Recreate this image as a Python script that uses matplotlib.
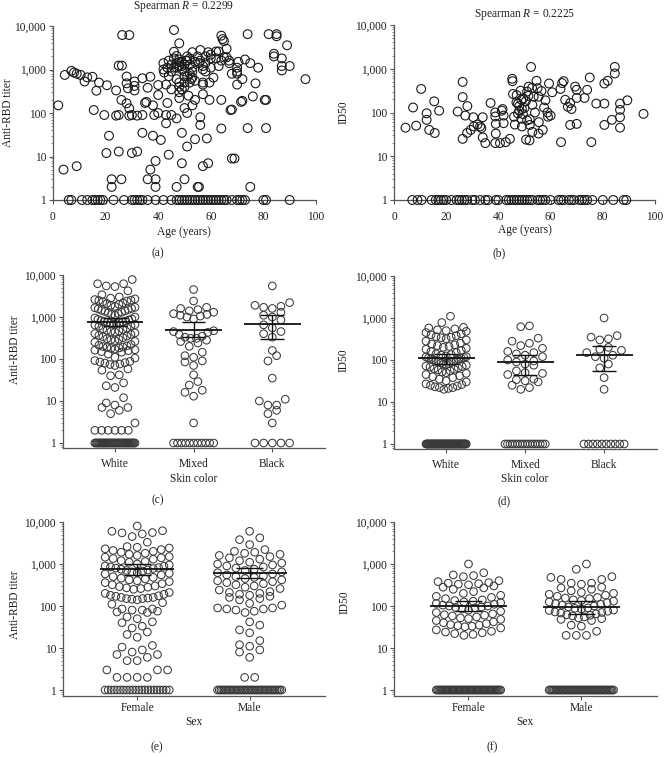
import matplotlib
matplotlib.use("Agg")
import matplotlib.pyplot as plt
import numpy as np
from matplotlib.ticker import LogLocator, NullFormatter

plt.rcParams['font.family'] = ['Liberation Serif', 'DejaVu Serif']
plt.rcParams['mathtext.fontset'] = 'custom'
plt.rcParams['mathtext.rm'] = 'Liberation Serif'
plt.rcParams['mathtext.it'] = 'Liberation Serif:italic'

# ---------------- data ----------------
# (a) age vs anti-RBD titer
age_a = [2, 4, 4.5, 7, 8, 9, 9, 10.5, 12, 13, 15, 15.5, 16.5, 17.5, 19.5, 20.5, 20.3, 21.3, 22.3, 22.3,
         24, 24, 25, 25, 25, 26.2, 26, 26, 26.3, 29, 28, 28, 28.5, 28, 29, 29, 30, 30, 31, 31, 31, 32, 32,
         34, 34, 34, 35, 35.5, 36, 36, 37, 37, 38, 38, 38.5, 39, 39, 39, 40, 40, 40,
         41, 42, 42, 42.3, 43, 43, 43, 43.5, 44, 43.5, 45, 45, 46, 46, 47, 47, 47, 47, 48, 48, 48, 48, 48, 48,
         49, 49, 49, 49, 50, 50, 50, 50, 50.5, 51, 51, 51, 51.5, 52, 52, 52.5, 53, 53, 53, 54, 54, 54, 55, 55.5,
         56, 56, 55.5, 57, 57, 57, 57, 57, 58, 58, 59, 59, 59.5, 59.5, 60, 60, 61,
         62, 63, 64, 64.5, 64, 64, 65, 66, 66, 67, 67, 68, 68, 68, 69, 70, 70, 70, 70, 70.5, 72, 72, 73, 74, 74,
         75, 75, 76, 77, 78, 81, 81, 82, 85, 85, 84, 84, 87, 87, 87, 89, 90, 96,
         44, 45, 46, 47, 48, 49, 50, 51, 52, 53, 55, 56, 57, 58, 60, 62, 63, 64, 65, 50, 51, 52, 53, 54, 47, 48,
         49, 50, 44, 45, 46, 71.5, 67.5, 80.5, 56, 58.5,
         6, 7, 11, 13, 15, 16, 17, 18, 19, 23, 27, 30, 31, 32, 33, 34, 36, 39, 42, 45, 47, 48, 49, 50, 51, 52, 53,
         54, 55, 56, 57, 58, 59, 60, 61, 62, 63, 64, 65, 66, 68, 70, 71, 72, 73, 80, 81, 90]
titer_a = [150, 5, 750, 930, 850, 6, 800, 750, 530, 660, 680, 117, 325, 500, 90, 435, 12, 30, 3, 2,
           330, 87, 90, 13, 1230, 1230, 200, 3, 6200, 6200, 690, 480, 370, 167, 128, 87, 12, 90, 530, 420, 330, 13, 87,
           630, 90, 35, 170, 180, 380, 3, 5, 680, 150, 30, 90, 7.9, 3, 2, 260, 100, 440,
           24, 1000, 1400, 850, 450, 90, 58, 170, 11, 1100, 90, 350, 8100, 2560, 2050, 1100, 75, 2, 4000, 1500, 1200,
           300, 220, 400,
           1500, 35, 7, 1000, 3, 130, 500, 700, 1600, 100, 17, 2000, 250, 500, 1300, 600, 2500, 150, 900, 25, 200,
           1500, 2, 2,
           53, 2800, 1400, 500, 450, 6, 270, 1000, 1400, 2000, 2500, 7, 200, 500, 1800, 1100, 650,
           2600, 2600, 6000, 5000, 200, 44, 4500, 3000, 1900, 1600, 1400, 800, 120, 9, 9, 1100, 900, 800, 450, 1500,
           600, 190, 1700, 6500, 45, 1400, 2, 240, 480, 1100, 200, 45, 6500, 6500, 5800, 2300, 2000, 1800, 1200, 950,
           3600, 1200, 600,
           1600, 1300, 1800, 1400, 1700, 1200, 1300, 1600, 1800, 1100, 2000, 1600, 1200, 900, 2200, 1800, 1200, 1600,
           1900, 900, 700, 800, 650, 550, 600, 500, 350, 400, 700, 900, 1100, 180, 117, 200, 80, 26,
           1, 1, 1, 1, 1, 1, 1, 1, 1, 1, 1, 1, 1, 1, 1, 1, 1, 1, 1, 1, 1, 1, 1, 1, 1, 1, 1,
           1, 1, 1, 1, 1, 1, 1, 1, 1, 1, 1, 1, 1, 1, 1, 1, 1, 1, 1, 1, 1]

# (b) age vs ID50
age_b = [4.4, 7.3, 8.5, 10.4, 12.5, 12.5, 13.5, 15.4, 15.6, 17.3, 24.4, 26.3, 26.3, 26.3, 27.3, 28.1, 28, 29.4,
         30.4, 30.6, 32, 33, 33.5, 34, 34, 35, 37, 38.8, 38.8, 39, 39, 38.8, 40.6, 41.3, 41.6, 42, 42, 42.8, 44.4,
         45.3, 45.4, 45.6, 46, 46.3, 46.9, 47.5, 48, 48.5, 48.8, 49, 48.8, 49.4, 50, 50.6, 51, 51.5, 51.6, 51.9,
         52, 52.5, 52.9, 53, 54, 54.6, 55, 55.4, 55.4, 57, 57.5, 58, 58.8, 59, 59.4, 60, 60.6, 63.8, 64.4, 64,
         65, 65.6, 66.6, 67.5, 67.5, 68, 69.4, 70, 70, 70, 73, 74, 75, 75.6, 77.5, 80.6, 80.6, 80.6, 81.9, 83.5,
         84.6, 84.6, 86.6, 86.6, 86.6, 86.6, 89.4, 95.6,
         47, 48, 49.5, 50.5, 51, 53, 53.5, 55.5, 56.5, 49, 47.5, 52,
         7, 9, 10.6, 14.4, 16, 17, 18, 19, 20, 22, 24, 25, 26, 27, 28, 30, 31, 33, 35, 36, 39, 40, 43, 44, 45,
         46, 47, 48, 49, 50, 51, 52, 53, 55, 56, 57, 58, 60, 63, 64, 65, 67, 68, 69, 71, 72, 73, 74, 76, 80,
         84, 88, 89]
id50_b = [45, 130, 50, 345, 96, 68, 40, 180, 34, 110, 105, 500, 225, 25, 85, 140, 34, 40,
          78, 48, 53, 48, 44, 78, 27, 20, 165, 100, 81, 55, 33, 20, 20, 110, 120, 85, 57, 21, 25,
          590, 520, 265, 80, 53, 170, 160, 110, 315, 195, 48, 72, 92, 127, 24, 66, 240, 390, 23,
          52, 1100, 365, 36, 100, 530, 360, 230, 33, 40, 130, 190, 100, 80, 460, 85, 290, 345, 470, 21,
          520, 195, 135, 165, 52, 120, 390, 330, 215, 55, 215, 330, 630, 21, 160, 160, 460, 52, 530, 68,
          780, 1100, 160, 115, 78, 45, 190, 93,
          250, 140, 210, 180, 300, 150, 230, 60, 310, 120, 95, 70,
          1, 1, 1, 1, 1, 1, 1, 1, 1, 1, 1, 1, 1, 1, 1, 1, 1, 1, 1, 1, 1, 1, 1, 1, 1,
          1, 1, 1, 1, 1, 1, 1, 1, 1, 1, 1, 1, 1, 1, 1, 1, 1, 1, 1, 1, 1, 1, 1, 1, 1,
          1, 1, 1]

# (c) anti-RBD titer by skin color
skin_groups = ['White', 'Mixed', 'Black']
titer_white = ([1] * 40 + [2] * 6 + [3, 5, 6, 7, 7, 8, 9, 12, 21, 23, 27, 40, 42, 54, 58,
               70, 74, 76, 80, 82, 85, 88, 92, 105, 110, 130,
               145, 150, 158, 162, 166, 172, 178, 183, 188, 193, 198, 205, 212, 222,
               250, 262, 275, 285, 295, 305, 322, 338, 352, 365, 385, 402, 418, 438, 452, 465, 482, 505, 522, 545,
               600, 618, 642, 658, 684, 702, 718, 738, 752, 765, 782, 803, 822, 848, 875, 905, 948, 1000,
               1100, 1160, 1210, 1250, 1300, 1360, 1400, 1440, 1500, 1560, 1600, 1660, 1700, 1790, 1900,
               2000, 2100, 2180, 2300, 2400, 2480, 2520, 2600, 2700, 2800, 3000,
               3400, 4200, 5300, 5500, 6200, 6200, 7800])
titer_mixed = ([1] * 11 + [3, 13, 16, 18, 24, 29, 42, 70, 85, 90, 110, 120, 145,
               200, 240, 260, 280, 310, 310, 330, 350, 380, 430, 450, 470,
               900, 1000, 1050, 1100, 1150, 1200, 1300, 1400, 1500, 1600, 1700, 2400, 4500])
titer_black = ([1] * 5 + [3, 5, 6, 8, 8, 10, 11, 35, 90, 120, 160,
               330, 400, 450, 550, 650, 850, 1000, 1100, 1300, 1600, 1700, 1800, 1900, 2200, 5500])
skin_titer_mid = [750, 500, 700]
skin_titer_lo = [620, 330, 300]
skin_titer_hi = [950, 750, 1100]

# (d) ID50 by skin color
id50_white = ([1] * 60 + [20, 21, 22, 22, 23, 24, 25, 26, 27, 30, 32,
              35, 38, 40, 42, 45, 48, 50, 52, 55, 58, 60, 62, 65,
              68, 70, 72, 75, 78, 80, 82, 85, 88, 90, 92, 95,
              100, 102, 105, 108, 110, 112, 115, 118, 120, 125, 130, 135, 140,
              150, 160, 170, 180, 190, 200, 210, 220, 230, 240, 250,
              280, 300, 320, 340, 350, 360, 380, 400, 420, 450,
              480, 500, 520, 550, 580, 600, 780, 1100])
id50_mixed = ([1] * 17 + [20, 22, 25, 30, 32, 34, 35, 45, 48, 50, 55, 75, 80, 90, 95, 100, 120, 130,
              140, 150, 160, 190, 220, 250, 280, 330, 620, 650])
id50_black = ([1] * 10 + [20, 38, 65, 80, 110, 120, 130, 150, 170, 180, 200, 300, 320, 350, 380, 1000])
skin_id50_mid = [110, 88, 135]
skin_id50_lo = [80, 45, 55]
skin_id50_hi = [140, 130, 210]

# (e) anti-RBD titer by sex
sex_groups = ['Female', 'Male']
titer_female = ([1] * 22 + [2, 2, 2, 2, 3, 3, 3, 5, 5, 6, 7, 7, 8, 9, 10.5, 11.5, 18, 21, 24, 30, 33, 40, 42,
                50, 55, 70, 72, 75, 80, 80, 85, 85, 110, 120,
                140, 145, 150, 150, 155, 160, 160, 170, 175, 180, 190, 200, 210,
                250, 260, 270, 280, 290, 300, 320, 340, 360, 380, 400, 420, 440, 460, 480, 500,
                550, 580, 600, 620, 650, 680, 700, 720, 750, 780, 800, 820, 850, 880, 900, 950, 1000,
                1100, 1150, 1200, 1300, 1350, 1400, 1450, 1500, 1600, 1700, 1800,
                1900, 2000, 2100, 2200, 2300, 2400, 2500, 2600,
                3300, 4500, 5200, 5500, 5600, 6000, 6200, 8000])
titer_male = ([1] * 40 + [2, 2, 6, 8, 9, 11, 12, 15, 23, 27, 35, 42, 70, 75, 80, 85, 85, 90, 90, 105, 115,
              140, 150, 160, 170, 180, 190, 200, 210, 220, 240, 260, 280,
              300, 320, 340, 360, 380, 400, 420, 450, 480, 500, 520, 550, 580,
              620, 650, 700, 750, 800, 850, 900, 950, 1000, 1050, 1100,
              1200, 1300, 1400, 1500, 1600, 1700, 1800, 1900, 2000, 2200,
              2900, 3800, 4200, 6000])
sex_titer_mid = [750, 600]
sex_titer_lo = [560, 460]
sex_titer_hi = [1000, 800]

# (f) ID50 by sex
id50_female = ([1] * 55 + [20, 21, 22, 23, 24, 25, 27, 30, 32, 33, 34, 35, 36, 38, 40, 42, 45, 48, 50, 52,
               55, 58, 60, 62, 65, 70, 75, 80, 85, 90, 92, 95, 100, 100, 105, 110, 115, 120, 125, 130,
               135, 140, 150, 160, 170, 180, 200, 220, 250, 270, 280, 300, 320, 330, 340, 350, 360, 380,
               400, 500, 530, 550, 620, 1000])
id50_male = ([1] * 50 + [20, 20, 20, 25, 33, 35, 45, 48, 50, 52, 55, 58, 60, 62, 65, 68, 70, 72, 75, 78,
             80, 85, 88, 90, 95, 100, 105, 110, 115, 120, 125, 130, 135, 140, 150, 155, 160, 170, 180,
             190, 200, 210, 230, 250, 270, 280, 330, 350, 350, 430, 430, 480, 500, 750, 1000])
sex_id50_mid = [100, 95]
sex_id50_lo = [75, 65]
sex_id50_hi = [130, 130]

# ---------------- figure ----------------
W, H = 664, 757
fig = plt.figure(figsize=(W / 100, H / 100), dpi=100)
txt_c = '#231f20'
spine_c = '#555555'
fs = 8.3


def add_axes(l, t, r, b):
    return fig.add_axes([l / W, 1 - b / H, (r - l) / W, (b - t) / H])


def style_log(ax, ymin):
    ax.set_yscale('log')
    ax.set_ylim(ymin, 10000)
    ax.set_yticks([1, 10, 100, 1000, 10000])
    ax.set_yticklabels(['1', '10', '100', '1,000', '10,000'])
    ax.yaxis.set_minor_locator(LogLocator(base=10, subs=np.arange(2, 10)))
    ax.yaxis.set_minor_formatter(NullFormatter())
    for s in ['top', 'right']:
        ax.spines[s].set_visible(False)
    for s in ['left', 'bottom']:
        ax.spines[s].set_color(spine_c)
        ax.spines[s].set_linewidth(0.9)
    ax.tick_params(which='major', length=3, width=0.8, color=spine_c, labelsize=fs, labelcolor=txt_c)
    ax.tick_params(which='minor', length=1.8, width=0.5, color=spine_c)
    ax.tick_params(axis='y', pad=2)
    ax.set_facecolor('none')


def swarm_x(vals, center, step, half, bin_dec):
    v = np.sort(np.asarray(vals, float))
    lv = np.log10(v)
    xs = np.empty_like(v)
    i = 0
    while i < len(v):
        j = i
        while j < len(v) and lv[j] - lv[i] < bin_dec:
            j += 1
        n = j - i
        s = step if n < 2 else min(step, 2 * half / (n - 1))
        pos = (np.arange(n) - (n - 1) / 2) * s
        order = np.argsort(np.abs(pos), kind='stable')
        xs[i:j] = center + pos[order]
        i = j
    return xs, v


def scatter_panel(ax, x, y, title, xy_title):
    ax.scatter(x, y, s=40, facecolors='none', edgecolors='#1a1a1a', linewidths=0.8, clip_on=False, zorder=3)
    style_log(ax, 1)
    ax.set_xlim(0, 100)
    ax.set_xticks([0, 20, 40, 60, 80, 100])
    ax.tick_params(axis='x', pad=5)
    fig.text(xy_title[0] / W, 1 - xy_title[1] / H, title, ha='center', va='center', fontsize=fs, color=txt_c)


def swarm_panel(ax, groups, mids, los, his, cats, step, half, line_hw, cap_hw, ymin, pad):
    for k, vals in enumerate(groups):
        xs, ys = swarm_x(vals, k, step, half, 0.19)
        ax.scatter(xs, ys, s=30, facecolors='none', edgecolors='#3a3a3a', linewidths=0.75, clip_on=False,
                   zorder=3)
        ax.hlines(mids[k], k - line_hw, k + line_hw, color='#111111', lw=1.3, zorder=4)
        ax.vlines(k, los[k], his[k], color='#111111', lw=1.0, zorder=4)
        ax.hlines([los[k], his[k]], k - cap_hw, k + cap_hw, color='#111111', lw=1.0, zorder=4)
    style_log(ax, ymin)
    ax.set_xlim(-0.66, len(cats) - 1 + 0.67)
    ax.set_xticks(range(len(cats)))
    ax.set_xticklabels(cats)
    ax.tick_params(axis='x', pad=pad)


def ftext(x, y, s, rot=0):
    fig.text(x / W, 1 - y / H, s, ha='center', va='center', fontsize=fs, color=txt_c, rotation=rot)


# (a)
ax_a = add_axes(53, 26, 316, 200)
scatter_panel(ax_a, age_a, titer_a, r'Spearman $\it{R}$ = 0.2299', (184, 7))
ftext(184, 232, 'Age (years)')
ftext(8, 113, 'Anti-RBD titer', 90)
ftext(158, 253, '(a)')

# (b)
ax_b = add_axes(394, 25, 655, 200)
scatter_panel(ax_b, age_b, id50_b, r'Spearman $\it{R}$ = 0.2225', (525, 15))
ftext(525, 230, 'Age (years)')
ftext(344, 112, 'ID50', 90)
ftext(499, 253, '(b)')

# (c)
ax_c = add_axes(63, 275, 325, 448)
swarm_panel(ax_c, [titer_white, titer_mixed, titer_black], skin_titer_mid, skin_titer_lo, skin_titer_hi,
            skin_groups, 0.11, 0.255, 0.36, 0.15, 0.76, 4.0)
ftext(194, 479, 'Skin color')
ftext(15, 350, 'Anti-RBD titer', 90)
ftext(158, 500, '(c)')

# (d)
ax_d = add_axes(394, 276, 657, 449)
swarm_panel(ax_d, [id50_white, id50_mixed, id50_black], skin_id50_mid, skin_id50_lo, skin_id50_hi,
            skin_groups, 0.11, 0.255, 0.36, 0.15, 0.76, 4.0)
ftext(525, 479, 'Skin color')
ftext(344, 360, 'ID50', 90)
ftext(504, 501, '(d)')

# (e)
ax_e = add_axes(63, 522, 325, 696)
swarm_panel(ax_e, [titer_female, titer_male], sex_titer_mid, sex_titer_lo, sex_titer_hi,
            sex_groups, 0.09, 0.285, 0.33, 0.12, 0.72, 1.0)
ftext(194, 722, 'Sex')
ftext(15, 605, 'Anti-RBD titer', 90)
ftext(157, 747, '(e)')

# (f)
ax_f = add_axes(394, 522, 657, 696)
swarm_panel(ax_f, [id50_female, id50_male], sex_id50_mid, sex_id50_lo, sex_id50_hi,
            sex_groups, 0.09, 0.285, 0.34, 0.12, 0.72, 1.0)
ftext(525, 722, 'Sex')
ftext(345, 602, 'ID50', 90)
ftext(492, 747, '(f)')

fig.savefig('out.png', dpi=100)
